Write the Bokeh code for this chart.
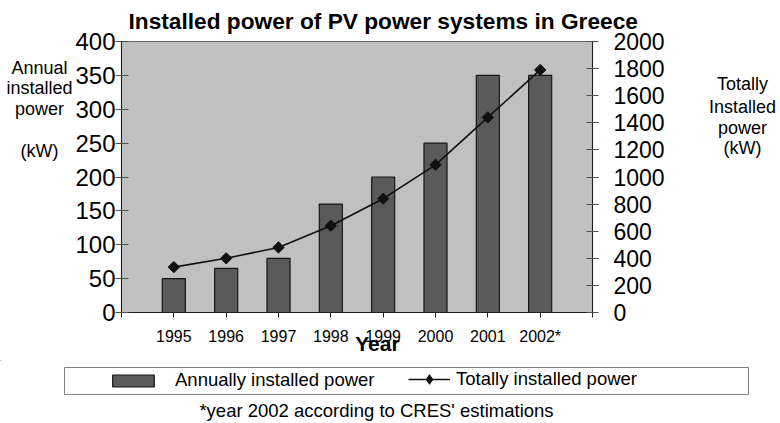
import math
from bokeh.plotting import figure
from bokeh.layouts import column, row
from bokeh.models import (Range1d, LinearAxis, FixedTicker, Label, Legend, LegendItem,
                          ColumnDataSource, BoxAnnotation, Title)
from bokeh.embed import file_html
from bokeh.resources import INLINE

# ---------------- data ----------------
years = ["1995", "1996", "1997", "1998", "1999", "2000", "2001", "2002*"]
annual_kw = [50, 65, 80, 160, 200, 250, 350, 350]
total_kw = [335, 400, 480, 640, 840, 1090, 1440, 1790]
left_ticks = [0, 50, 100, 150, 200, 250, 300, 350, 400]
right_ticks = [0, 200, 400, 600, 800, 1000, 1200, 1400, 1600, 1800, 2000]

title_text = "Installed power of PV power systems in Greece"
left_title = ["Annual", "installed", "power", "(kW)"]
right_title = ["Totally", "Installed", "power", "(kW)"]
x_title = "Year"
legend_labels = ["Annually installed power", "Totally installed power"]
footnote = "*year 2002 according to CRES' estimations"

# ---------------- layout constants (canvas px) ----------------
FONT = "Liberation Sans"
W, H = 780, 423
MID_BOT = 360          # bottom of the chart row
LEFT_W, RIGHT_X = 72, 680
FL, FR, FT, FB = 118, 592, 41, 312  # main frame edges

BAR_FILL, BAR_LINE = "#5a5a5a", "#151515"
LINE_COL = "#101010"


def text_fig(w, h, x0, x1, y_top, y_bottom):
    f = figure(width=w, height=h, x_range=Range1d(x0, x1), y_range=Range1d(y_bottom, y_top),
               min_border=0, toolbar_location=None, output_backend="svg",
               x_axis_type=None, y_axis_type=None, title=None)
    f.outline_line_color = None
    f.background_fill_color = "white"
    f.border_fill_color = "white"
    f.grid.visible = False
    return f


def lab(text, x, y, size, bold=False):
    return Label(x=x, y=y, text=text, text_align="center", text_baseline="middle",
                 text_font=FONT, text_font_size=size,
                 text_font_style="bold" if bold else "normal", text_color="black")


# ---------------- left / right strips (their frames align with the main frame) ----------------
f_left = text_fig(LEFT_W, MID_BOT, 0, LEFT_W, FT, FB)
for t, cy in zip(left_title, [67, 87, 108, 150]):
    f_left.add_layout(lab(t, 39, cy, "18px"))

f_right = text_fig(W - RIGHT_X, MID_BOT, RIGHT_X, W, FT, FB)
for t, cy in zip(right_title, [83, 106, 127, 147]):
    f_right.add_layout(lab(t, 742, cy, "18px"))

# ---------------- main chart ----------------
xs = list(range(1, len(years) + 1))
src = ColumnDataSource(dict(x=xs, annual=annual_kw, total=total_kw))

p = figure(width=RIGHT_X - LEFT_W, height=MID_BOT, output_backend="svg",
           toolbar_location=None,
           title=Title(text=title_text, align="left", vertical_align="top",
                       offset=7, standoff=12,
                       text_font=FONT, text_font_size="22.7px", text_font_style="bold",
                       text_color="black"),
           x_range=Range1d(0, len(years) + 1),
           y_range=Range1d(left_ticks[0], left_ticks[-1]),
           min_border_left=FL - LEFT_W, min_border_right=RIGHT_X - FR,
           min_border_top=FT, min_border_bottom=MID_BOT - FB)
p.background_fill_color = "#c0c0c0"
p.border_fill_color = "white"
p.outline_line_color = "#6a6a6a"
p.outline_line_width = 1.2
p.grid.visible = False
p.extra_y_ranges = {"total": Range1d(right_ticks[0], right_ticks[-1])}

p.vbar(x="x", top="annual", width=0.44, source=src,
       fill_color=BAR_FILL, line_color=BAR_LINE, line_width=1.2)
p.line(x="x", y="total", source=src, y_range_name="total",
       line_color=LINE_COL, line_width=1.6)
p.scatter(x="x", y="total", source=src, y_range_name="total",
          marker="square", angle=math.pi / 4, size=8,
          fill_color=LINE_COL, line_color=LINE_COL)

xa = p.xaxis[0]
xa.ticker = FixedTicker(ticks=list(range(0, len(years) + 2)))
overrides = {0: "", len(years) + 1: ""}
for i, y in enumerate(years):
    overrides[i + 1] = y
xa.major_label_overrides = overrides
xa.major_tick_out = 5
xa.major_tick_in = 0
xa.minor_tick_line_color = None
xa.axis_line_color = "#202020"
xa.major_tick_line_color = "#202020"
xa.major_label_text_font = FONT
xa.major_label_text_font_size = "16px"
xa.major_label_text_color = "black"
xa.major_label_standoff = 10
xa.axis_label = "\u00a0" * 7 + x_title
xa.axis_label_text_font = FONT
xa.axis_label_text_font_size = "21px"
xa.axis_label_text_font_style = "bold"
xa.axis_label_text_color = "black"
xa.axis_label_standoff = -16

ya = p.yaxis[0]
ya.ticker = FixedTicker(ticks=left_ticks)
ya.major_tick_out = 6
ya.major_tick_in = 7
ya.minor_tick_line_color = None
ya.axis_line_color = "#202020"
ya.major_tick_line_color = "#505050"
ya.major_label_text_font = FONT
ya.major_label_text_font_size = "24px"
ya.major_label_text_color = "black"
ya.major_label_standoff = 0

ra = LinearAxis(y_range_name="total", ticker=FixedTicker(ticks=right_ticks))
ra.major_tick_out = 6
ra.major_tick_in = 6
ra.minor_tick_line_color = None
ra.axis_line_color = "#202020"
ra.major_tick_line_color = "#505050"
ra.major_label_text_font = FONT
ra.major_label_text_font_size = "23px"
ra.major_label_text_color = "black"
ra.major_label_standoff = 15
p.add_layout(ra, "right")

# ---------------- legend / footnote strip ----------------
f_bot = text_fig(W, H - MID_BOT, 0, W, MID_BOT, H)
f_bot.add_layout(BoxAnnotation(left=64, right=748, top=367, bottom=394,
                               fill_color="white", fill_alpha=1.0,
                               line_color="#808080", line_width=1, line_alpha=1.0))
# legend proxies: one point each, placed outside the strip's visible ranges
r_bar = f_bot.vbar(x=[-100], top=[-100], bottom=[-200], width=1,
                   fill_color=BAR_FILL, line_color=BAR_LINE, line_width=1.2)
r_line = f_bot.line(x=[-100, -90], y=[-100, -100], line_color=LINE_COL, line_width=1.6)
r_pt = f_bot.scatter(x=[-100], y=[-100], marker="diamond", size=10,
                     fill_color=LINE_COL, line_color=LINE_COL)

leg_common = dict(orientation="horizontal", padding=0, margin=0,
                  background_fill_alpha=0, border_line_alpha=0,
                  label_text_font=FONT, label_text_font_size="18.5px",
                  label_text_color="black")
leg_y = H - 391
f_bot.add_layout(Legend(items=[LegendItem(label=legend_labels[0], renderers=[r_bar])],
                        location=(107, leg_y), glyph_width=52, glyph_height=15,
                        label_standoff=16, **leg_common))
f_bot.add_layout(Legend(items=[LegendItem(label=legend_labels[1], renderers=[r_line, r_pt])],
                        location=(408, leg_y), glyph_width=42, glyph_height=24,
                        label_standoff=6, **leg_common))
f_bot.add_layout(lab(footnote, 376, 410, "18.5px"))

layout = column(row(f_left, p, f_right), f_bot)
open("out.html", "w").write(file_html(layout, INLINE))
